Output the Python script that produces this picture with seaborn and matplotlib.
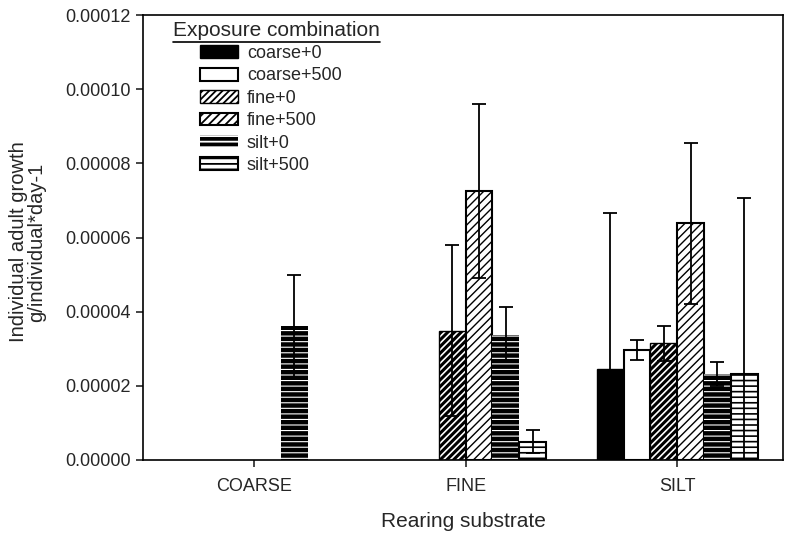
import numpy as np
import pandas as pd
import matplotlib
matplotlib.use('Agg')
import matplotlib.pyplot as plt
import seaborn as sns
from matplotlib.patches import Patch
from matplotlib.lines import Line2D
from matplotlib.ticker import FormatStrFormatter

# Dados (NaN = sem barra)
substrates = ['COARSE', 'FINE', 'SILT']
exposures = ['coarse+0', 'coarse+500', 'fine+0', 'fine+500', 'silt+0', 'silt+500']

growth_coarse0 = [np.nan, np.nan, 2.45e-5]
growth_coarse500 = [np.nan, np.nan, 2.97e-5]
growth_fine0 = [np.nan, 3.49e-5, 3.15e-5]
growth_fine500 = [np.nan, 7.25e-5, 6.38e-5]
growth_silt0 = [3.62e-5, 3.38e-5, 2.32e-5]
growth_silt500 = [np.nan, 0.49e-5, 2.33e-5]

err_coarse0 = [np.nan, np.nan, 4.20e-5]
err_coarse500 = [np.nan, np.nan, 0.27e-5]
err_fine0 = [np.nan, 2.30e-5, 0.47e-5]
err_fine500 = [np.nan, 2.35e-5, 2.18e-5]
err_silt0 = [1.37e-5, 0.74e-5, 0.33e-5]
err_silt500 = [np.nan, 0.31e-5, 4.74e-5]

growth = [growth_coarse0, growth_coarse500, growth_fine0, growth_fine500, growth_silt0, growth_silt500]
errors = [err_coarse0, err_coarse500, err_fine0, err_fine500, err_silt0, err_silt500]

rows = []
for exp, vals, errs in zip(exposures, growth, errors):
    for sub, v, e in zip(substrates, vals, errs):
        rows.append({'substrate': sub, 'exposure': exp, 'growth': v, 'err': e})
df = pd.DataFrame(rows).dropna()

# Estilos (preenchimento / hachura)
styles = {
    'coarse+0': dict(fc='black', ec='black', hatch=None, lw=1.0, hlw=1.0),
    'coarse+500': dict(fc='white', ec='black', hatch=None, lw=1.5, hlw=1.0),
    'fine+0': dict(fc='white', ec='black', hatch='/////', lw=1.0, hlw=2.2),
    'fine+500': dict(fc='white', ec='black', hatch='////', lw=1.5, hlw=1.0),
    'silt+0': dict(fc='black', ec='white', hatch='---', lw=0, hlw=0.8),
    'silt+500': dict(fc='white', ec='black', hatch='---', lw=1.5, hlw=1.2),
}


def apply_style(p, st):
    p.set_facecolor(st['fc'])
    p.set_edgecolor(st['ec'])
    p.set_linewidth(st['lw'])
    p.set_hatch(st['hatch'])
    if hasattr(p, 'set_hatch_linewidth'):
        p.set_hatch_linewidth(st['hlw'])


sns.set_style('ticks')
plt.rcParams['font.family'] = ['Liberation Sans', 'DejaVu Sans']
plt.rcParams['hatch.linewidth'] = 1.3

fig = plt.figure(figsize=(7.86, 5.36), dpi=100)
ax = fig.add_axes([143 / 786, 1 - 460 / 536, 640 / 786, 445 / 536])

width = 0.76
sns.barplot(data=df, x='substrate', y='growth', hue='exposure', order=substrates,
            hue_order=exposures, width=width, errorbar=None, legend=False, ax=ax)

bw = width / len(exposures)
for p in list(ax.patches):
    xc = p.get_x() + p.get_width() / 2
    i = int(round(xc))
    j = int(round((xc - i + width / 2 - bw / 2) / bw))
    apply_style(p, styles[exposures[j]])
    ax.errorbar(xc, growth[j][i], yerr=errors[j][i], fmt='none', ecolor='black',
                elinewidth=1.3, capsize=5, capthick=1.3, zorder=5)

ax.set_xlim(-0.525, 2.50)
ax.set_ylim(0, 0.00012)
ax.set_yticks(np.arange(0, 0.000121, 0.00002))
ax.yaxis.set_major_formatter(FormatStrFormatter('%.5f'))
for s in ax.spines.values():
    s.set_visible(True)
    s.set_color('black')
    s.set_linewidth(1.2)
ax.tick_params(axis='both', direction='out', length=5, width=1.2, labelsize=13, pad=4)
ax.tick_params(axis='x', pad=8)
ax.set_xlabel('Rearing substrate', fontsize=15, labelpad=12)
ax.set_ylabel('Individual adult growth\ng/individual*day-1', fontsize=14.5, linespacing=0.92)
ax.yaxis.set_label_coords(-0.152, 0.49)

# Legenda
handles = []
for exp in exposures:
    st = styles[exp]
    h = Patch(facecolor=st['fc'], edgecolor=st['ec'], hatch=st['hatch'], linewidth=st['lw'], label=exp)
    if hasattr(h, 'set_hatch_linewidth'):
        h.set_hatch_linewidth(st['hlw'])
    handles.append(h)
ax.legend(handles=handles, loc='upper left', bbox_to_anchor=(200 / 786, 1 - 45 / 536),
          bbox_transform=fig.transFigure, frameon=False, fontsize=13, borderpad=0,
          borderaxespad=0, handlelength=2.1, handleheight=0.72, handletextpad=0.5,
          labelspacing=0.3)

title = fig.text(173 / 786, 1 - 30 / 536, 'Exposure combination', fontsize=15,
                 ha='left', va='center')
fig.canvas.draw()
bb = title.get_window_extent().transformed(fig.transFigure.inverted())
fig.add_artist(Line2D([bb.x0, bb.x1], [bb.y0 - 0.004, bb.y0 - 0.004], color='black',
                      linewidth=1.2, transform=fig.transFigure))

fig.savefig('out.png', dpi=100)
